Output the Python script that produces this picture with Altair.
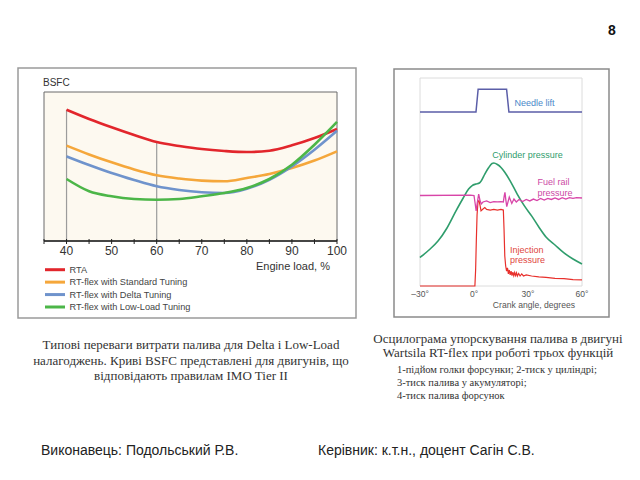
import altair as alt
import pandas as pd

# ---------------- Left chart: BSFC vs engine load (relative units) ----------------
load = [40, 45, 50, 55, 60, 65, 70, 75, 80, 85, 90, 95, 100]
bsfc_rta = [88.1, 81.9, 76.3, 71.1, 66.4, 63.8, 61.7, 60.4, 59.7, 60.6, 64.2, 69.1, 75.2]
bsfc_std = [64.0, 58.1, 52.8, 48.0, 44.1, 41.9, 40.5, 40.1, 42.3, 45.0, 49.0, 54.0, 60.2]
bsfc_delta = [56.8, 51.0, 45.6, 40.9, 36.7, 34.2, 32.7, 32.2, 35.1, 41.1, 50.1, 61.3, 74.0]
bsfc_low = [41.6, 33.4, 30.0, 28.2, 27.7, 28.2, 30.0, 32.2, 35.6, 41.6, 51.2, 64.6, 79.9]
series_names = ["RTA", "RT-flex with Standard Tuning", "RT-flex with Delta Tuning",
                "RT-flex with Low-Load Tuning"]
series_colors = ["#e2262c", "#f5a73b", "#6f93cc", "#4cb648"]
load_ticks = [35, 40, 45, 50, 55, 60, 65, 70, 75, 80, 85, 90, 95, 100]
load_labels = [40, 50, 60, 70, 80, 90, 100]
marker_loads = [40, 60]

# ---------------- Right chart: injection oscillogram (relative units) ----------------
needle_deg = [-30, 1.1, 2.3, 18.1, 19.4, 60]
needle_val = [83.6, 83.6, 94.6, 94.6, 83.6, 83.6]
cyl_deg = [-30, -25, -20, -15, -10, -6, -3, -1, 1, 3, 4, 6, 8, 10, 11, 13, 15, 17, 20, 24,
           28, 32, 36, 40, 45, 50, 55, 60]
cyl_val = [13.7, 17.3, 21.6, 27.9, 36.1, 42.3, 46.6, 48.3, 49.0, 49.5, 50.5, 53.8, 56.7, 58.9,
           59.1, 58.4, 57.0, 54.8, 50.7, 44.2, 38.5, 33.7, 28.4, 23.6, 19.7, 15.9, 13.0, 10.6]
fuel_deg = [-30, -2, 0, 0.6, 1.2, 1.8, 2.6, 3.3, 4, 5, 7, 9, 11, 13, 15, 16.3, 16.8, 17.2, 17.7,
            18.2, 19.6, 21, 22.2, 23.5, 25, 27, 29, 31, 33, 35, 37, 39, 41, 43, 45, 47, 49, 51,
            53, 55, 57, 60]
fuel_val = [43.5, 43.7, 43.5, 39.9, 36.1, 39.9, 44.2, 41.3, 39.4, 40.4, 40.9, 40.1, 40.6, 40.4,
            40.6, 40.4, 43.3, 45.0, 41.3, 38.2, 42.8, 39.7, 41.8, 40.4, 41.6, 40.6, 41.6, 40.9,
            41.8, 41.1, 42.1, 41.3, 42.1, 41.6, 42.3, 41.6, 42.5, 41.8, 42.5, 42.1, 42.5, 42.3]
inj_deg = [-30, 0.5, 0.9, 1.3, 1.7, 2.2, 2.8, 3.4, 3.9, 5, 6, 7, 9, 11, 13, 15, 16.3, 16.7, 17.1,
           17.6, 18.1, 18.6, 19.1, 19.6, 20.1, 20.6, 21.1, 21.6, 22.1, 22.6, 23.1, 23.6, 24.1,
           24.8, 25.6, 26.5, 27.5, 29, 32, 36, 40, 45, 50, 55, 60]
inj_val = [0, 0, 7.7, 22.1, 34.1, 40.4, 41.1, 38.5, 36.1, 37.0, 37.7, 36.8, 36.5, 36.8, 36.5,
           36.8, 36.5, 26.9, 14.4, 9.6, 7.2, 8.7, 5.8, 7.7, 5.3, 7.2, 5.0, 6.7, 5.0, 6.5, 5.0,
           6.3, 4.8, 6.0, 4.8, 5.8, 4.8, 5.3, 4.8, 4.4, 4.1, 3.7, 3.5, 3.1, 2.9]
crank_ticks = [-30, 0, 30, 60]
crank_labels = ["\u201330\u00b0", "0\u00b0", "30\u00b0", "60\u00b0"]

SANS = "Liberation Sans"
SERIF = "Liberation Serif"

# ---------------- scales ----------------
xL_scale = alt.Scale(domain=[35, 100], range=[36, 329], nice=False, zero=False)
yL_scale = alt.Scale(domain=[0, 100], range=[233, 84], nice=False, zero=False)
xR_scale = alt.Scale(domain=[-30, 60], range=[412, 574], nice=False, zero=False)
yR_scale = alt.Scale(domain=[0, 100], range=[278, 70], nice=False, zero=False)
col_scale = alt.Scale(domain=series_names, range=series_colors)

one = pd.DataFrame({"k": [0]})


def txt(s, x, y, size, color, font=SANS, align="left", weight="normal", baseline="middle"):
    return alt.Chart(one).mark_text(
        text=s, align=align, baseline=baseline, fontSize=size, color=color, font=font,
        fontWeight=weight
    ).encode(x=alt.value(x), y=alt.value(y))


def box(x0, y0, x1, y1, stroke, sw=1.0, fill="white"):
    return alt.Chart(one).mark_rect(fill=fill, stroke=stroke, strokeWidth=sw).encode(
        x=alt.value(x0), x2=alt.value(x1), y=alt.value(y0), y2=alt.value(y1))


layers = []

# outer frames
layers.append(box(10, 60, 348, 310, "#9a9a9a", 1.5))
layers.append(box(386, 61, 601, 309, "#8a8a8a", 1.5))

# ---------------- left chart ----------------
rows = []
for name, vals in zip(series_names, [bsfc_rta, bsfc_std, bsfc_delta, bsfc_low]):
    for l, v in zip(load, vals):
        rows.append({"load": l, "bsfc": v, "series": name})
df_bsfc = pd.DataFrame(rows)

df_bg = pd.DataFrame({"x0": [load_ticks[0]], "x1": [load_ticks[-1]], "y0": [0], "y1": [100]})
layers.append(alt.Chart(df_bg).mark_rect(fill="#fdf9f0", stroke="#6a6a6a", strokeWidth=1).encode(
    x=alt.X("x0:Q", scale=xL_scale, axis=None), x2="x1:Q",
    y=alt.Y("y0:Q", scale=yL_scale, axis=None), y2="y1:Q"))

df_mark = pd.DataFrame({"load": marker_loads,
                        "top": [bsfc_rta[load.index(m)] for m in marker_loads],
                        "base": [0, 0]})
layers.append(alt.Chart(df_mark).mark_rule(color="#9c9c9c", strokeWidth=1.2).encode(
    x=alt.X("load:Q", scale=xL_scale, axis=None),
    y=alt.Y("base:Q", scale=yL_scale, axis=None), y2="top:Q"))

layers.append(alt.Chart(df_bsfc).mark_line(strokeWidth=2.6, interpolate="monotone").encode(
    x=alt.X("load:Q", scale=xL_scale, axis=None),
    y=alt.Y("bsfc:Q", scale=yL_scale, axis=None),
    color=alt.Color("series:N", scale=col_scale, legend=None),
    detail="series:N"))

df_axis = pd.DataFrame({"x0": [load_ticks[0]], "x1": [load_ticks[-1]], "y": [0]})
layers.append(alt.Chart(df_axis).mark_rule(color="#222222", strokeWidth=1.3).encode(
    x=alt.X("x0:Q", scale=xL_scale, axis=None), x2="x1:Q",
    y=alt.Y("y:Q", scale=yL_scale, axis=None)))

df_ticks = pd.DataFrame({"load": load_ticks})
layers.append(alt.Chart(df_ticks).mark_rule(color="#222222", strokeWidth=1).encode(
    x=alt.X("load:Q", scale=xL_scale, axis=None), y=alt.value(231), y2=alt.value(236)))

df_lab = pd.DataFrame({"load": load_labels})
layers.append(alt.Chart(df_lab).mark_text(fontSize=12, color="#333333", font=SANS,
                                          baseline="middle").encode(
    x=alt.X("load:Q", scale=xL_scale, axis=None), y=alt.value(243), text="load:Q"))

layers.append(txt("BSFC", 35, 75, 10, "#333333"))
layers.append(txt("Engine load, %", 322, 259, 11, "#333333", align="right"))

# manual legend
df_leg = pd.DataFrame({"series": series_names})
leg_y = alt.Y("series:N", scale=alt.Scale(type="point", domain=series_names,
                                          range=[261.7, 299], padding=0), axis=None)
layers.append(alt.Chart(df_leg).mark_rule(strokeWidth=3).encode(
    x=alt.value(37), x2=alt.value(57), y=leg_y,
    color=alt.Color("series:N", scale=col_scale, legend=None)))
layers.append(alt.Chart(df_leg).mark_text(align="left", baseline="middle", fontSize=9.2,
                                          color="#444444", font=SANS).encode(
    x=alt.value(61.5), y=leg_y, text="series:N"))

# ---------------- right chart ----------------
df_rbg = pd.DataFrame({"x0": [crank_ticks[0]], "x1": [crank_ticks[-1]], "y0": [0], "y1": [100]})
layers.append(alt.Chart(df_rbg).mark_rect(fill="white", stroke="#dcdcdc", strokeWidth=1).encode(
    x=alt.X("x0:Q", scale=xR_scale, axis=None), x2="x1:Q",
    y=alt.Y("y0:Q", scale=yR_scale, axis=None), y2="y1:Q"))


def rline(degs, vals, color, sw=1.4, interp="linear"):
    d = pd.DataFrame({"deg": degs, "val": vals, "i": list(range(len(degs)))})
    return alt.Chart(d).mark_line(color=color, strokeWidth=sw, interpolate=interp).encode(
        x=alt.X("deg:Q", scale=xR_scale, axis=None),
        y=alt.Y("val:Q", scale=yR_scale, axis=None),
        order="i:Q")


layers.append(rline(cyl_deg, cyl_val, "#2f9d6c", 1.6, "monotone"))
layers.append(rline(needle_deg, needle_val, "#5b5ea8", 1.5))
layers.append(rline(inj_deg, inj_val, "#e8302c", 1.2))
layers.append(rline(fuel_deg, fuel_val, "#d845a8", 1.3))

df_cl = pd.DataFrame({"deg": crank_ticks, "lab": crank_labels})
layers.append(alt.Chart(df_cl).mark_text(fontSize=8.5, color="#555555", font=SANS,
                                         baseline="middle").encode(
    x=alt.X("deg:Q", scale=xR_scale, axis=None), y=alt.value(286), text="lab:N"))
layers.append(txt("Crank angle, degrees", 567, 296.5, 8.6, "#555555", align="right"))

layers.append(txt("Needle lift", 506.5, 94.5, 9, "#4a88c9"))
layers.append(txt("Cylinder pressure", 484.3, 146.7, 9, "#2f9d6c"))
layers.append(txt("Fuel rail", 529.5, 174.3, 9, "#cc4aa5"))
layers.append(txt("pressure", 529.5, 185, 9, "#cc4aa5"))
layers.append(txt("Injection", 502, 241.7, 9, "#e0453e"))
layers.append(txt("pressure", 502, 252.3, 9, "#e0453e"))

# ---------------- slide texts ----------------
layers.append(txt("8", 604, 23, 14, "#111111", align="center", weight="bold"))

layers.append(txt("Типові переваги витрати палива для  Delta і Low-Load", 183, 337, 13,
                  "#333333", SERIF, align="center"))
layers.append(txt("налагоджень. Криві BSFC представлені для двигунів, що", 183, 353, 13,
                  "#333333", SERIF, align="center"))
layers.append(txt("відповідають правилам IMO Tier II", 183, 368, 13, "#333333", SERIF,
                  align="center"))

layers.append(txt("Осцилограма упорскування палива в двигуні", 490, 331, 13, "#333333",
                  SERIF, align="center"))
layers.append(txt("Wartsila RT-flex  при роботі трьох функцій", 490, 345, 13, "#333333",
                  SERIF, align="center"))
layers.append(txt("1-підйом голки форсунки; 2-тиск у циліндрі;", 389, 362, 10.5, "#333333", SERIF))
layers.append(txt("3-тиск палива у акумуляторі;", 389, 375, 10.5, "#333333", SERIF))
layers.append(txt("4-тиск палива форсунок", 389, 388, 10.5, "#333333", SERIF))

layers.append(txt("Виконавець: Подольський Р.В.", 33, 443, 14, "#222222"))
layers.append(txt("Керівник: к.т.н., доцент Сагін С.В.", 310, 443, 14, "#222222"))

chart = alt.layer(*layers).resolve_scale(
    x="independent", y="independent", color="independent"
).properties(
    width=624, height=464, padding=0, autosize="none"
).configure_view(stroke=None)

chart.save("out.html", embed_options={"renderer": "svg", "actions": False})
